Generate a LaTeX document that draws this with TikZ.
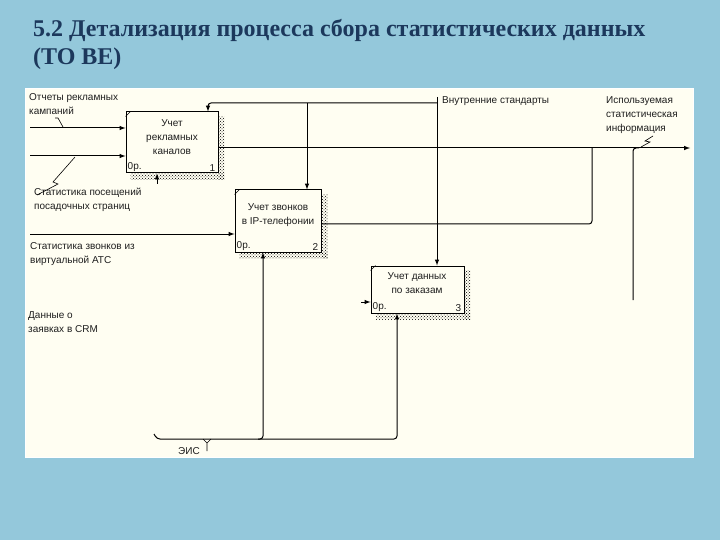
\documentclass[tikz,border=0pt]{standalone}
\usepackage{fontspec}
\setmainfont{Liberation Serif}
\newfontfamily\diafont{Liberation Sans}
\usetikzlibrary{patterns,positioning}
\definecolor{slidebg}{RGB}{148,200,219}
\definecolor{panelbg}{RGB}{255,254,242}
\definecolor{titleblue}{RGB}{28,56,92}
\definecolor{inkgray}{RGB}{30,30,30}
\tikzset{
  ttl/.style={font=\bfseries\fontsize{24}{28}\selectfont, text=titleblue, inner sep=0pt, anchor=base west},
  lbl/.style={font=\diafont\fontsize{10}{14}\selectfont, text=inkgray, inner sep=0pt, align=left},
  act/.style={draw, line width=1pt, fill=panelbg, inner sep=0pt},
  flow/.style={line width=1pt, ->},
  wire/.style={line width=1pt},
  hatch/.style={pattern=crosshatch dots, pattern color=black},
}
\begin{document}
\begin{tikzpicture}[x=1pt,y=-1pt,>=latex]
\fill[slidebg] (0,0) rectangle (720,540);
\draw[white,fill=panelbg] (25,88) rectangle (693,457);
\node[ttl] (title1) at (33,37) {5.2 Детализация процесса сбора статистических данных};
\node[ttl] (title2) at (33,65) {(TO BE)};

% activity boxes
\node[act, minimum width=92pt, minimum height=61pt] (box1) at (172,142.5) {};
\node[act, minimum width=86pt, minimum height=62pt] (box2) at (278,221) {};
\node[act, minimum width=93pt, minimum height=47pt] (box3) at (417.5,289.5) {};
\foreach \b in {box1,box2,box3}
{
    \fill[hatch] ([yshift=-5pt]\b.north east) rectangle ([xshift=6pt,yshift=-6pt]\b.south east);
    \fill[hatch] ([xshift=5pt]\b.south west) rectangle ([xshift=6pt,yshift=-6pt]\b.south east);
    \draw[line width=.5pt] ([yshift=-5pt]\b.north west) -- ([xshift=5pt]\b.north west);
}
\node[lbl, align=center] (t1) at (172,137) {Учет\\рекламных\\каналов};
\node[lbl, align=center] (t2) at (278,215) {Учет звонков\\в IP-телефонии};
\node[lbl, align=center] (t3) at (417,283) {Учет данных\\по заказам};
\foreach \b/\n in {box1/1,box2/2,box3/3}
{
    \node[lbl, anchor=south west] (op\n) at ([xshift=2pt,yshift=2pt]\b.south west) {0р.};
    \node[lbl, anchor=south east] (no\n) at ([xshift=-3pt,yshift=2pt]\b.south east) {\n};
}

% inputs
\coordinate (in1) at (30,128);
\coordinate (in2) at (30,156);
\coordinate (in3) at (30,234);
\coordinate (in4) at (361,302);
\draw[flow] (in1) -- (in1 -| box1.west);
\draw[flow] (in2) -- (in2 -| box1.west);
\draw[flow] (in3) -- (in3 -| box2.west);
\draw[flow] (in4) -- (in4 -| box3.west);
\node[lbl, anchor=north west] (lin1) at (29,93) {Отчеты рекламных\\кампаний};
\node[lbl, anchor=north west] (lin2) at (34,188) {Статистика посещений\\посадочных страниц};
\node[lbl, anchor=north west] (lin3) at (30,242) {Статистика звонков из\\виртуальной АТС};
\node[lbl, anchor=north west] (lin4) at (28,311) {Данные о\\заявках в CRM};
\draw[line width=.6pt] (55,118) -- (58,118) -- (63,127);
\draw[line width=.6pt] (75,157) -- (53,182) -- (58,184) -- (37,195);

% controls
\coordinate (ctl) at (437,97);
\coordinate (ctlj) at (437,103);
\coordinate (c1) at (208,103);
\coordinate (c2) at (307,103);
\draw[flow] (ctl) -- (ctl |- box3.north);
\draw[flow, rounded corners=3pt] (ctlj) -- (c1) -- (c1 |- box1.north);
\draw[flow] (c2) -- (c2 |- box2.north);
\node[lbl, anchor=west] (lctl) at (442,101) {Внутренние стандарты};

% outputs
\coordinate (out) at (690,148);
\coordinate (o2) at (592,224);
\coordinate (o3) at (633,300);
\draw[flow] (box1.east |- out) -- (out);
\draw[wire, rounded corners=3pt] (box2.east |- o2) -- (o2) -- (o2 |- out);
\draw[wire, rounded corners=3pt] (o3) -- (o3 |- out) -- ++(6,0);
\node[lbl, anchor=north west] (lout) at (606,96) {Используемая\\статистическая\\информация};
\draw[line width=.6pt] (641,147) -- (650,142) -- (645,141) -- (653,136);

% mechanisms
\coordinate (m1) at (157,439);
\coordinate (m2) at (263,439);
\coordinate (m3) at (397,439);
\coordinate (m4) at (157,184);
\draw[flow, rounded corners=3pt] (154,434) -- (m1) -- (m3) -- (m3 |- box3.south);
\draw[flow, rounded corners=3pt] ([xshift=-5pt]m2) -- (m2) -- (m2 |- box2.south);
\draw[flow] (m4) -- (m4 |- box1.south);
\node[lbl, anchor=base] (lmech) at (189,454) {ЭИС};
\draw[line width=.6pt] (207,451) -- (207,443) -- (203,439) (207,443) -- (211,439);
\end{tikzpicture}
\end{document}
